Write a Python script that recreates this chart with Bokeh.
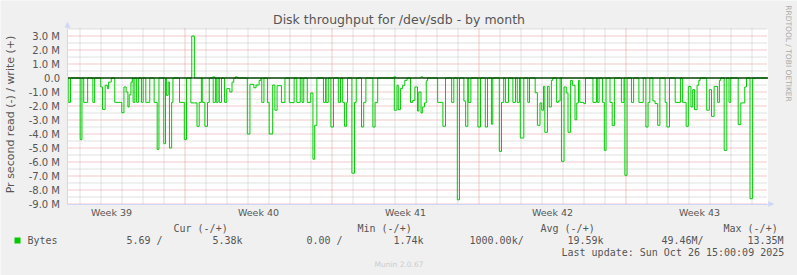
import math
from datetime import datetime, timedelta
from bokeh.plotting import figure
from bokeh.models import (Range1d, FixedTicker, Label, LinearAxis,
                          CustomJSTickFormatter)
from bokeh.embed import file_html
from bokeh.resources import INLINE

# ---------------- data ----------------
START = datetime(2025, 9, 23, 9, 42)   # left edge of the graph
SPAN_HOURS = 800                       # 33 1/3 days shown

# read (-) segments : hours since START, value in M bytes/s
read_start_h = [0.8, 14.5, 18.5, 29, 38, 40, 43, 45.5, 47, 54, 62, 64.5, 67, 69, 70.5, 72.5,
                75, 79, 84.5, 89.5, 99, 102.5, 110, 113, 115, 116.5, 119, 128,
                133.5, 141, 148, 150.5, 154, 157, 160, 166.5, 170, 173.5, 179.5, 182, 185.5, 188,
                205.5, 208.5, 213, 215.5, 219, 222, 228.5, 230.5, 234.5, 237, 239.5, 244.5,
                253.5, 262,
                268, 274, 278, 280.5, 282.5, 292.5, 295.5, 301, 309.5, 314.5, 316.5, 319,
                325, 328, 336, 338.5, 349, 351.5, 373.5, 376.5, 378, 380.5, 383, 385.5,
                392, 394.5, 397,
                400, 401.5, 404, 405.5, 408, 410, 423, 429, 439, 445.5, 453, 455, 458,
                469, 477.5, 484.5, 493.5, 496, 500.5, 509, 514, 517.5, 526,
                534.5, 537, 540, 542, 544, 545.5, 548.5, 550.5, 553, 559, 561, 564.5, 567.5,
                570, 572, 575, 577, 580, 582, 584, 585.5, 590, 600.5, 605.5, 611.5, 613.5,
                620, 622.5, 633, 637, 644.5, 653, 661, 663.5,
                669, 671.5, 674.5, 683, 685, 694.5, 703, 707, 709.5, 712.5, 714.5, 716.5,
                719.5, 721.5, 730.5, 733.5, 736, 739, 743, 745, 750.5, 756, 766.5, 769.5,
                774, 780]
read_end_h = [3.4, 16.5, 23, 31, 40, 43, 45.5, 47, 50, 62, 64.5, 67, 69, 70.5, 72.5, 74,
              77, 81, 86.5, 94, 102.5, 104.5, 112, 115, 116.5, 119, 120.5, 133.5,
              136, 148, 150.5, 153, 157, 160, 162, 169, 172, 176, 182, 185.5, 188, 190,
              208.5, 213, 215.5, 219, 221, 224.5, 230.5, 234.5, 237, 239.5, 244.5, 248.5,
              259, 266,
              270, 278, 280.5, 282.5, 285, 295, 298, 304, 312, 316.5, 319, 320,
              328, 330, 338.5, 341, 351.5, 354.5, 376.5, 378, 380.5, 383, 385.5, 388,
              394.5, 397, 400,
              401.5, 404, 405.5, 408, 410, 411.5, 429, 432, 441.5, 448, 455, 457.5, 461,
              472, 480, 486, 496, 498.5, 504, 512, 516.5, 521.5, 528,
              537, 540, 542, 544, 545.5, 548.5, 550.5, 553, 554.5, 561, 563, 567.5, 570,
              572, 575, 577, 580, 582, 584, 585.5, 590, 592, 604.5, 607.5, 613.5, 615.5,
              622.5, 625, 636, 639.5, 647, 658, 663.5, 665.5,
              671.5, 674.5, 677, 685, 688, 700.5, 707, 709.5, 712.5, 714.5, 716.5, 719.5,
              721.5, 723, 733.5, 736, 739, 743, 745, 746.5, 753.5, 758, 769.5, 774,
              776, 783]
read_mbps = [-1.74, -4.4, -1.74, -1.74, -0.64, -2.24, -0.52, -0.76, -0.29, -1.74, -2.48, -0.64,
             -1.0, -2.07, -1.2, -0.3,
             -1.74, -1.74, -1.74, -1.74, -1.74, -5.1, -4.69, -1.24, -0.29, -5.0, -1.74, -1.74,
             -4.4, -1.78, -3.45, -1.74, -1.74, -3.45, -1.74, -1.74, -1.74, -1.74, -1.74, -0.76,
             -1.0, -0.3,
             -4.0, -0.45, -0.7, -0.5, -0.17, -1.74, -1.74, -4.0, -0.5, -2.3, -0.55, -1.74,
             -1.76, -1.74,
             -1.74, -1.74, -1.07, -5.8, -3.38, -1.74, -1.74, -3.5, -1.74, -1.74, -3.45, -1.74,
             -6.8, -1.74, -3.5, -1.74, -3.5, -1.74, -2.3, -0.52, -2.26, -0.76, -0.52, -0.17,
             -1.74, -1.6, -0.64,
             -2.36, -1.0, -2.5, -2.07, -1.78, -0.2, -1.74, -3.45, -1.74, -8.7, -1.64, -3.45, -1.74,
             -3.5, -3.5, -3.3, -5.24, -1.74, -1.74, -1.74, -1.74, -4.29, -1.74,
             -1.05, -3.38, -1.78, -2.3, -0.6, -3.88, -0.6, -2.07, -0.17, -1.74, -1.64, -5.95, -0.64,
             -1.07, -3.88, -0.17, -0.52, -2.98, -1.78, -0.17, -1.74, -1.83, -1.74, -1.74, -1.74, -5.17,
             -1.74, -3.4, -1.74, -6.95, -1.74, -1.74, -3.5, -1.74,
             -1.64, -1.83, -3.38, -1.74, -3.5, -1.74, -1.74, -3.45, -0.6, -2.07, -0.83, -2.26,
             -0.52, -0.17, -2.3, -0.83, -2.74, -0.6, -1.74, -0.17, -5.17, -1.74, -3.33, -1.78,
             -0.64, -8.62]

# write (+) segments
write_start_h = [142, 166, 192, 373, 404]
write_end_h = [145, 168, 194, 375, 406]
write_mbps = [3.0, 0.08, 0.08, 0.08, 0.08]

y_ticks = [-9, -8, -7, -6, -5, -4, -3, -2, -1, 0, 1, 2, 3]
y_min, y_max = -9.0, 3.5
week_numbers = [39, 40, 41, 42, 43]

title_text = "Disk throughput for /dev/sdb - by month"
y_label_text = "Pr second read (-) / write (+)"
legend_name = "Bytes"
legend_headers = ["Cur (-/+)", "Min (-/+)", "Avg (-/+)", "Max (-/+)"]
legend_values = ["5.69 /", "5.38k", "0.00 /", "1.74k", "1000.00k/", "19.59k", "49.46M/", "13.35M"]
last_update = "Last update: Sun Oct 26 15:00:09 2025"
munin_version = "Munin 2.0.67"
watermark = "RRDTOOL / TOBI OETIKER"

# ---------------- geometry helpers ----------------
EPOCH = datetime(1970, 1, 1)
W, H = 797, 275
PL, PR = 67, 767          # graph area left / right pixel
PT, PB = 28, 204          # graph area top / bottom pixel
PX_PER_HOUR = 0.875       # 21 px per day
PX_PER_M = 14.0
ZERO_PY = 77.5


def ms(dt):
    return (dt - EPOCH).total_seconds() * 1000.0


X0 = ms(START)
X1 = ms(START + timedelta(hours=SPAN_HOURS))


def h2ms(h):
    return X0 + h * 3600000.0


def fx(px):
    return X0 + (px - PL) / PX_PER_HOUR * 3600000.0


def fy(py):
    return (ZERO_PY - py) / PX_PER_M


def build_steps(starts, ends, vals):
    xs, ys = [h2ms(0)], [0.0]
    for i, (s, e, v) in enumerate(zip(starts, ends, vals)):
        xs.append(h2ms(s)); ys.append(v)
        if i == len(starts) - 1 or starts[i + 1] > e + 1e-9:
            xs.append(h2ms(e)); ys.append(0.0)
    xs.append(h2ms(SPAN_HOURS)); ys.append(0.0)
    return xs, ys


def dotted(vert_pos, horiz_pos):
    """1-px dots (1 on / 1 off) along vertical lines at x=vert_pos and horizontal lines at y=horiz_pos."""
    xs, ys = [], []
    for t in vert_pos:
        for py in range(PT, PB, 2):
            xs.append(t); ys.append(fy(py + 0.5))
    for v in horiz_pos:
        for px in range(PL, PR, 2):
            xs.append(fx(px + 0.5)); ys.append(v)
    return xs, ys


# ---------------- figure ----------------
p = figure(width=W, height=H, output_backend="svg", toolbar_location=None,
           x_range=Range1d(fx(0), fx(W)), y_range=Range1d(fy(H), fy(0)),
           min_border=0, x_axis_location=None, y_axis_location=None,
           background_fill_color="#f0f0f0", border_fill_color="#f0f0f0",
           outline_line_color=None, title_location=None)
p.xgrid.visible = False
p.ygrid.visible = False

AXIS_COL = "#cfd6f8"
TXT = "#555555"
GRID_COL = "#c4c4c4"
MGRID_COL = "#e49494"
GX0, GX1 = fx(PL - 0.5), fx(PR + 0.5)

# graph canvas (white), drawn first
p.quad(left=[GX0], right=[GX1], bottom=[y_min], top=[y_max],
       fill_color="white", line_color=None)

# dotted grid
day_ticks, week_ticks = [], []
d = datetime(START.year, START.month, START.day) + timedelta(days=1)
while d < START + timedelta(hours=SPAN_HOURS):
    (week_ticks if d.weekday() == 0 else day_ticks).append(ms(d))
    d += timedelta(days=1)
half_ticks = [t + 0.5 for t in y_ticks]

gx, gy = dotted(day_ticks, half_ticks)
p.rect(gx, gy, width=1, height=1, width_units="screen", height_units="screen",
       fill_color=GRID_COL, line_color=None)
mx, my = dotted(week_ticks, [t for t in y_ticks if t != 0])
p.rect(mx, my, width=1, height=1, width_units="screen", height_units="screen",
       fill_color=MGRID_COL, line_color=None)

# data lines
rx, ry = build_steps(read_start_h, read_end_h, read_mbps)
wx, wy = build_steps(write_start_h, write_end_h, write_mbps)
p.step(rx, ry, mode="after", line_color="#00cc00", line_width=1)
p.step(wx, wy, mode="after", line_color="#00cc00", line_width=1)

# zero rule
p.segment(x0=[GX0], x1=[GX1], y0=[0], y1=[0], line_color="black", line_width=1)

# axes placed at the graph edges
yaxis = LinearAxis(fixed_location=GX0, bounds=(y_min, y_max),
                   ticker=FixedTicker(ticks=y_ticks),
                   formatter=CustomJSTickFormatter(
                       code="return tick == 0 ? '0.0' : tick.toFixed(1) + ' M';"),
                   axis_line_color=AXIS_COL, major_tick_out=0, major_tick_in=0,
                   minor_tick_line_color=None, major_label_standoff=7,
                   major_label_text_font="DejaVu Sans", major_label_text_font_size="10px",
                   major_label_text_color=TXT)
p.add_layout(yaxis, "left")

week_pos = [ms(datetime.fromisocalendar(2025, w, 4) + timedelta(hours=12)) for w in week_numbers]
week_txt = ["Week %d" % w for w in week_numbers]
xaxis = LinearAxis(fixed_location=y_min, bounds=(GX0, GX1),
                   ticker=FixedTicker(ticks=week_pos),
                   formatter=CustomJSTickFormatter(args=dict(pos=week_pos, txt=week_txt),
                                                   code="const i = pos.indexOf(tick); return i >= 0 ? txt[i] : '';"),
                   axis_line_color=AXIS_COL, major_tick_out=0, major_tick_in=0,
                   minor_tick_line_color=None, major_label_standoff=3,
                   major_label_text_font="DejaVu Sans", major_label_text_font_size="9.5px",
                   major_label_text_color=TXT)
p.add_layout(xaxis, "below")

# axis arrows
p.patch(x=[fx(64.5), fx(69.5), fx(67)], y=[fy(27), fy(27), fy(21.5)],
        fill_color=AXIS_COL, line_color=AXIS_COL, line_width=0.5)
p.patch(x=[fx(768), fx(768), fx(773.5)], y=[fy(201), fy(206), fy(203.5)],
        fill_color=AXIS_COL, line_color=AXIS_COL, line_width=0.5)


def lab(text, px, py, size, font="DejaVu Sans", color=TXT, align="left", angle=0.0):
    p.add_layout(Label(x=fx(px), y=fy(py), text=text, text_font=font, text_font_size=size,
                       text_color=color, text_align=align, text_baseline="middle", angle=angle))


# titles
lab(title_text, 398.5, 19, "12.5px", align="center")
lab(y_label_text, 10, 114, "11px", align="center", angle=math.pi / 2)
lab(watermark, 788, 53, "7.5px", color="#aaaaaa", align="center", angle=-math.pi / 2)

# legend
MONO = "DejaVu Sans Mono"
p.quad(left=[fx(14)], right=[fx(20)], bottom=[fy(243)], top=[fy(237)],
       fill_color="#00cc00", line_color=None)
lab(legend_name, 27, 240, "10px", font=MONO)
for txt, px in zip(legend_headers, [173, 357, 540, 723]):
    lab(txt, px, 228, "10px", font=MONO)
for txt, px in zip(legend_values, [126, 212, 306, 393, 469, 567, 661, 747]):
    lab(txt, px, 240, "10px", font=MONO)
lab(last_update, 561, 252, "10px", font=MONO)
lab(munin_version, 398.5, 264, "7.5px", color="#cccccc", align="center")

open("out.html", "w").write(file_html(p, INLINE))
